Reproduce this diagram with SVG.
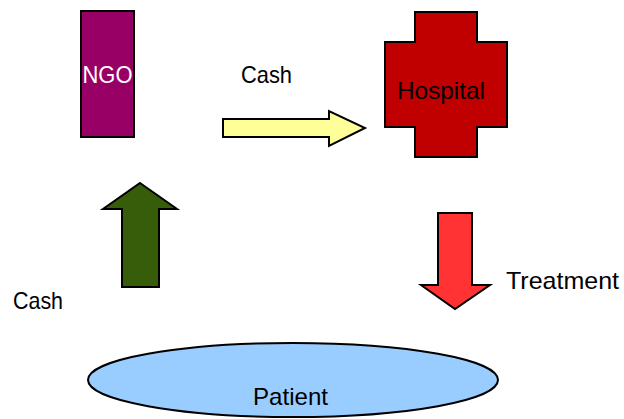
<svg xmlns="http://www.w3.org/2000/svg" width="624" height="419" viewBox="0 0 624 419">
  <style>
    .lbl { font-family: "Liberation Sans", Arial, sans-serif; font-size: 24px; fill: #000; }
    .edge { stroke: #000; stroke-width: 2; stroke-linejoin: miter; }
  </style>
  <rect width="624" height="419" fill="#fff"/>

  <g id="ngo">
    <rect x="81" y="11" width="53" height="126" fill="#990066" stroke="#000" stroke-width="2"/>
    <text class="lbl" x="107.5" y="83" text-anchor="middle" style="fill:#fff" textLength="50" lengthAdjust="spacingAndGlyphs">NGO</text>
  </g>

  <g id="hospital">
    <path d="M415,12 H477 V42 H507 V127 H477 V157 H415 V127 H385 V42 H415 Z" fill="#C00000" stroke="#000" stroke-width="2"/>
    <text class="lbl" x="397" y="99" textLength="88" lengthAdjust="spacingAndGlyphs">Hospital</text>
  </g>

  <g id="patient">
    <ellipse cx="293" cy="380" rx="205" ry="37" fill="#99CCFF" stroke="#000" stroke-width="2"/>
    <text class="lbl" x="253" y="405" textLength="75" lengthAdjust="spacingAndGlyphs">Patient</text>
  </g>

  <g id="connectors">
    <!-- NGO to Hospital: cash -->
    <path class="edge" d="M223,119 H329 V111 L365,128 L329,146 V137 H223 Z" fill="#FFFF99"/>
    <text class="lbl" x="241" y="83" textLength="51" lengthAdjust="spacingAndGlyphs">Cash</text>
    <!-- Patient to NGO: cash -->
    <path class="edge" d="M140,183 L177,209 H159 V287 H122 V209 H103 Z" fill="#385D0A"/>
    <text class="lbl" x="13" y="309" textLength="50" lengthAdjust="spacingAndGlyphs">Cash</text>
    <!-- Hospital to Patient: treatment -->
    <path class="edge" d="M438,213 H472 V285 H490 L455,309 L421,285 H438 Z" fill="#FF3333"/>
    <text class="lbl" x="506" y="289" textLength="113" lengthAdjust="spacingAndGlyphs">Treatment</text>
  </g>
</svg>
